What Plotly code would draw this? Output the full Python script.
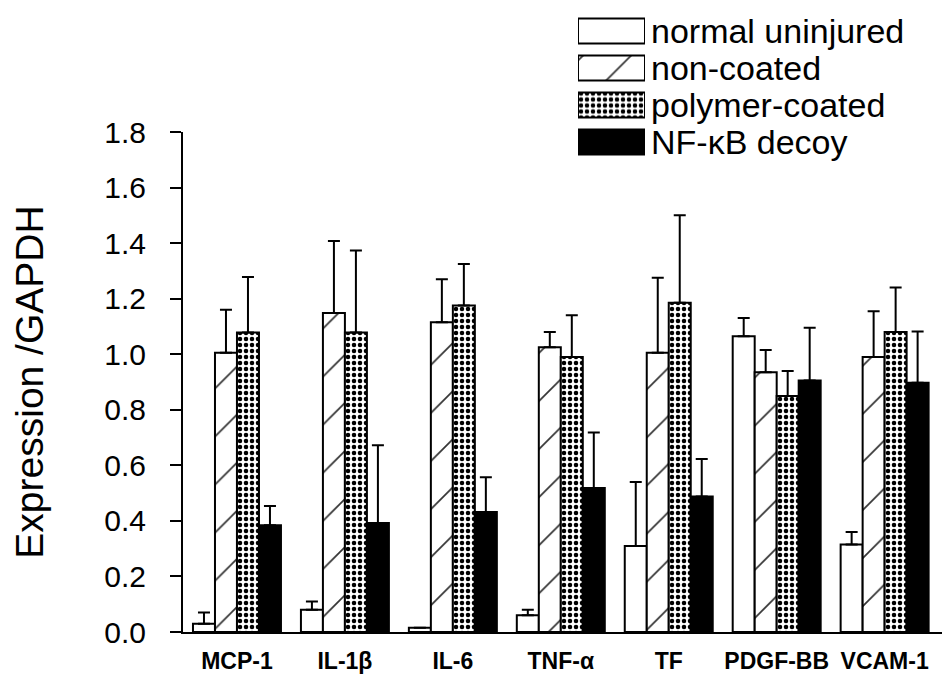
import plotly.graph_objects as go

categories = ["MCP-1", "IL-1β", "IL-6", "TNF-α", "TF", "PDGF-BB", "VCAM-1"]
series_names = ["normal uninjured", "non-coated", "polymer-coated", "NF-κB decoy"]

normal_uninjured = [0.03, 0.08, 0.015, 0.06, 0.31, 1.065, 0.315]
normal_uninjured_err = [0.04, 0.03, None, 0.02, 0.23, 0.065, 0.045]
non_coated = [1.005, 1.148, 1.115, 1.025, 1.005, 0.935, 0.99]
non_coated_err = [0.155, 0.26, 0.155, 0.055, 0.27, 0.08, 0.165]
polymer_coated = [1.078, 1.078, 1.175, 0.99, 1.185, 0.85, 1.08]
polymer_coated_err = [0.2, 0.295, 0.15, 0.15, 0.315, 0.09, 0.16]
nfkb_decoy = [0.384, 0.392, 0.432, 0.518, 0.488, 0.905, 0.897]
nfkb_decoy_err = [0.07, 0.28, 0.125, 0.2, 0.135, 0.19, 0.185]

y_ticks = [0.0, 0.2, 0.4, 0.6, 0.8, 1.0, 1.2, 1.4, 1.6, 1.8]
y_title = "Expression /GAPDH"

values = [normal_uninjured, non_coated, polymer_coated, nfkb_decoy]
errors = [normal_uninjured_err, non_coated_err, polymer_coated_err, nfkb_decoy_err]

styles = [
    dict(color="white", pattern=dict(shape="")),
    dict(color="white", pattern=dict(shape="/", size=34, solidity=0.05,
                                     fgcolor="#333333", bgcolor="white", fillmode="replace")),
    dict(color="white", pattern=dict(shape=".", size=6, solidity=0.45,
                                     fgcolor="black", bgcolor="white", fillmode="replace")),
    dict(color="black", pattern=dict(shape="")),
]

FONT = "Liberation Sans, Arial, sans-serif"

fig = go.Figure()
for name, vals, errs, st in zip(series_names, values, errors, styles):
    fig.add_trace(go.Bar(
        name=name, x=categories, y=vals,
        marker=dict(color=st["color"], pattern=st["pattern"],
                    line=dict(color="black", width=2)),
        error_y=dict(type="data", symmetric=False, array=errs,
                     arrayminus=[0] * len(errs), color="black",
                     thickness=2, width=6),
        showlegend=False,
    ))

# legend drawn as an inset axis of swatches
for i, (name, st) in enumerate(zip(series_names, styles)):
    fig.add_trace(go.Bar(
        x=[1], y=[name], orientation="h", base=0, width=0.68,
        marker=dict(color=st["color"], pattern=st["pattern"],
                    line=dict(color="black", width=2)),
        xaxis="x2", yaxis="y2", showlegend=False, hoverinfo="skip",
    ))

# page body has an 8px margin: the figure starts at (8, 8)
OFF = 8
W, H = 950 - OFF, 684 - OFF
ml, mr, mt, mb = 183 - OFF, 6, 2, 52
plot_h = H - mt - mb
plot_w = W - ml - mr
main_top = 132 - OFF
ydom_top = (H - mb - main_top) / plot_h

leg_x0, leg_x1 = 578 - OFF, 645 - OFF
leg_top, leg_bot = 12.5 - OFF, 160.5 - OFF

fig.update_layout(
    width=W, height=H,
    margin=dict(l=ml, r=mr, t=mt, b=mb, autoexpand=False),
    paper_bgcolor="white", plot_bgcolor="white",
    barmode="group", bargap=0.185, bargroupgap=0,
    font=dict(family=FONT, color="black"),
    xaxis=dict(
        type="category", range=[-0.5, 6.55], automargin=False,
        showline=True, linecolor="black", linewidth=2,
        ticks="", showgrid=False, zeroline=False,
        tickfont=dict(family=FONT, size=23, weight="bold", color="black"),
        ticklabelstandoff=7,
        anchor="y",
    ),
    yaxis=dict(
        domain=[0, ydom_top], range=[0, 1.8], automargin=False,
        tickvals=y_ticks, ticktext=[f"{v:.1f}" for v in y_ticks],
        showline=True, linecolor="black", linewidth=2,
        ticks="outside", ticklen=11, tickwidth=2, tickcolor="black",
        showgrid=False, zeroline=False,
        tickfont=dict(family=FONT, size=30, color="black"),
        ticklabelstandoff=18,
        title=dict(text=y_title, font=dict(family=FONT, size=39, color="black"), standoff=60),
        anchor="x",
    ),
    xaxis2=dict(
        domain=[(leg_x0 - ml) / plot_w, (leg_x1 - ml) / plot_w],
        range=[0, 1], visible=False, anchor="y2", fixedrange=True,
    ),
    yaxis2=dict(
        domain=[(H - mb - leg_bot) / plot_h, (H - mb - leg_top) / plot_h],
        type="category", categoryorder="array", categoryarray=series_names,
        tickmode="array", tickvals=series_names, ticktext=series_names,
        range=[3.5, -0.5], automargin=False,
        side="right", anchor="x2", showline=False, showgrid=False,
        zeroline=False, ticks="",
        tickfont=dict(family=FONT, size=34, color="black"),
        ticklabelstandoff=5, fixedrange=True,
    ),
)

fig.write_html("out.html")
